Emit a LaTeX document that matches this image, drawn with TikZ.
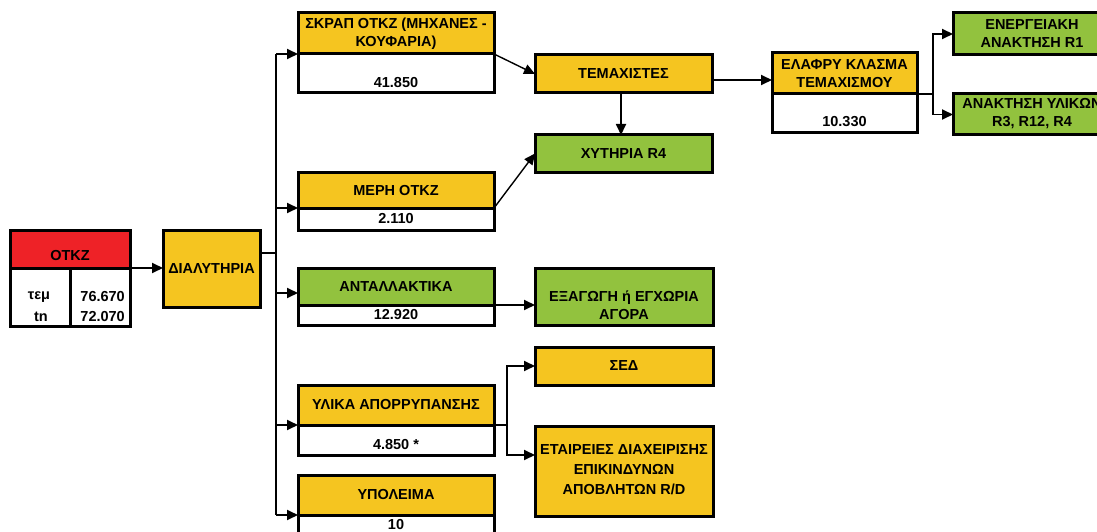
\documentclass[tikz,border=0pt]{standalone}
\usepackage{fontspec}
\setmainfont{Liberation Sans}
\usetikzlibrary{arrows.meta}
\definecolor{cred}{HTML}{EE2227}
\definecolor{cyel}{HTML}{F5C520}
\definecolor{cgrn}{HTML}{92C23E}
\begin{document}
\begin{tikzpicture}[x=1pt,y=-1pt,
  box/.style={draw=black, line width=3pt, rectangle, inner sep=0pt, outer sep=0pt, anchor=north west},
  yel/.style={box, fill=cyel},
  grn/.style={box, fill=cgrn},
  red/.style={box, fill=cred},
  wht/.style={box, fill=white},
  txt/.style={font=\bfseries\fontsize{14.5}{18}\selectfont, align=center, inner sep=0pt},
  conn/.style={line width=1.8pt, -{Triangle[length=11pt,width=10pt]}},
  wire/.style={line width=1.8pt}]
\useasboundingbox (0,0) rectangle (1097,532);
\clip (0,0) rectangle (1097,532);
% OTKZ
\node[red, minimum width=120, minimum height=38] (otkzh) at (10,230) {};
\node[wht, minimum width=120, minimum height=58] (otkzv) at (10,268) {};
\draw[line width=3pt] (otkzv.north) -- (otkzv.south);
\node[txt] (tOTKZ) at (70,256) {ΟΤΚΖ};
\node[txt] (tTem) at (39,297) {τεμ};
\node[txt] (tTn) at (41,317) {tn};
\node[txt, anchor=east] (tV1) at (125,297) {76.670};
\node[txt, anchor=east] (tV2) at (125,317) {72.070};
% ΔΙΑΛΥΤΗΡΙΑ
\node[yel, minimum width=97, minimum height=77] (dial) at (163,230) {};
\node[txt] (tDial) at (dial.center) {ΔΙΑΛΥΤΗΡΙΑ};
% column 2
\node[yel, minimum width=196, minimum height=41] (skraph) at (298,13) {};
\node[wht, minimum width=196, minimum height=39] (skrapv) at (298,54) {};
\node[txt] (tSkrap) at (skraph.center) {ΣΚΡΑΠ ΟΤΚΖ (ΜΗΧΑΝΕΣ -\\ΚΟΥΦΑΡΙΑ)};
\node[txt] (tSkrapv) at (396,83) {41.850};
\node[yel, minimum width=196, minimum height=36] (merih) at (298,172) {};
\node[wht, minimum width=196, minimum height=22] (meriv) at (298,208) {};
\node[txt] (tMeri) at (396,191) {ΜΕΡΗ ΟΤΚΖ};
\node[txt] (tMeriv) at (meriv.center) {2.110};
\node[grn, minimum width=196, minimum height=37] (antalh) at (298,268) {};
\node[wht, minimum width=196, minimum height=20] (antalv) at (298,305) {};
\node[txt] (tAntal) at (396,287) {ΑΝΤΑΛΛΑΚΤΙΚΑ};
\node[txt] (tAntalv) at (antalv.center) {12.920};
\node[yel, minimum width=196, minimum height=40] (ylh) at (298,385) {};
\node[wht, minimum width=196, minimum height=30] (ylv) at (298,425) {};
\node[txt] (tYl) at (ylh.center) {ΥΛΙΚΑ ΑΠΟΡΡΥΠΑΝΣΗΣ};
\node[txt] (tYlv) at (396,445) {4.850 *};
\node[yel, minimum width=196, minimum height=40] (ypolh) at (298,475) {};
\node[wht, minimum width=196, minimum height=30] (ypolv) at (298,515) {};
\node[txt] (tYpol) at (ypolh.center) {ΥΠΟΛΕΙΜΑ};
\node[txt] (tYpolv) at (396,525) {10};
% column 3
\node[yel, minimum width=177, minimum height=38] (temax) at (535,55) {};
\node[txt] (tTemax) at (temax.center) {ΤΕΜΑΧΙΣΤΕΣ};
\node[grn, minimum width=177, minimum height=37] (xyt) at (535,135) {};
\node[txt] (tXyt) at (xyt.center) {ΧΥΤΗΡΙΑ R4};
\node[grn, minimum width=178, minimum height=57] (exag) at (535,268) {};
\node[txt] (tExag) at (624,305) {ΕΞΑΓΩΓΗ ή ΕΓΧΩΡΙΑ\\ΑΓΟΡΑ};
\node[yel, minimum width=178, minimum height=38] (sed) at (535,347) {};
\node[txt] (tSed) at (sed.center) {ΣΕΔ};
\node[yel, minimum width=178, minimum height=90] (etair) at (535,426) {};
\node[txt, font=\bfseries\fontsize{14.5}{20}\selectfont] (tEtair) at (624,470) {ΕΤΑΙΡΕΙΕΣ ΔΙΑΧΕΙΡΙΣΗΣ\\ΕΠΙΚΙΝΔΥΝΩΝ\\ΑΠΟΒΛΗΤΩΝ R/D};
% column 4
\node[yel, minimum width=145, minimum height=41] (elafh) at (772,53) {};
\node[wht, minimum width=145, minimum height=39] (elafv) at (772,94) {};
\node[txt] (tElaf) at (elafh.center) {ΕΛΑΦΡΥ ΚΛΑΣΜΑ\\ΤΕΜΑΧΙΣΜΟΥ};
\node[txt] (tElafv) at (844.5,122) {10.330};
% column 5
\node[grn, minimum width=158, minimum height=42] (energ) at (953,13) {};
\node[txt] (tEnerg) at (1032,34) {ΕΝΕΡΓΕΙΑΚΗ\\ΑΝΑΚΤΗΣΗ R1};
\node[grn, minimum width=158, minimum height=41] (anakt) at (953,94) {};
\node[txt] (tAnakt) at (1032,114) {ΑΝΑΚΤΗΣΗ ΥΛΙΚΩΝ\\R3, R12, R4};
% connectors
\draw[conn] (otkzh.south east) -- (otkzh.south east -| dial.west);
\coordinate (bj) at (276,253);
\coordinate (b1) at (276,54);
\coordinate (b2) at (276,208);
\coordinate (b3) at (276,293);
\coordinate (b4) at (276,425);
\coordinate (b5) at (276,515);
\draw[wire] (dial.east |- bj) -- (bj);
\draw[wire] (b1) -- (b5);
\draw[conn] (b1) -- (skraph.south west);
\draw[conn] (b2) -- (merih.south west);
\draw[conn] (b3) -- (b3 -| antalh.west);
\draw[conn] (b4) -- (ylh.south west);
\draw[conn] (b5) -- (ypolh.south west);
\draw[conn, line width=1.4pt] (skraph.south east) -- (temax.west);
\draw[conn, line width=1.4pt] (merih.south east) -- (xyt.west);
\coordinate (tx) at (621,0);
\draw[conn] (temax.south -| tx) -- (xyt.north -| tx);
\draw[conn] (antalh.south east) -- (antalh.south east -| exag.west);
\coordinate (yj) at (507,425);
\draw[wire] (ylh.south east) -- (yj);
\draw[conn] (yj) |- (sed.west);
\draw[conn] (yj) |- (etair.west |- ylv.south);
\coordinate (y80) at (0,80);
\draw[conn] (temax.east |- y80) -- (elafh.west |- y80);
\coordinate (ej) at (933,94);
\draw[wire] (elafh.south east) -- (ej);
\draw[conn] (ej) |- (energ.west);
\draw[conn] (ej) |- (anakt.west);
\end{tikzpicture}
\end{document}
